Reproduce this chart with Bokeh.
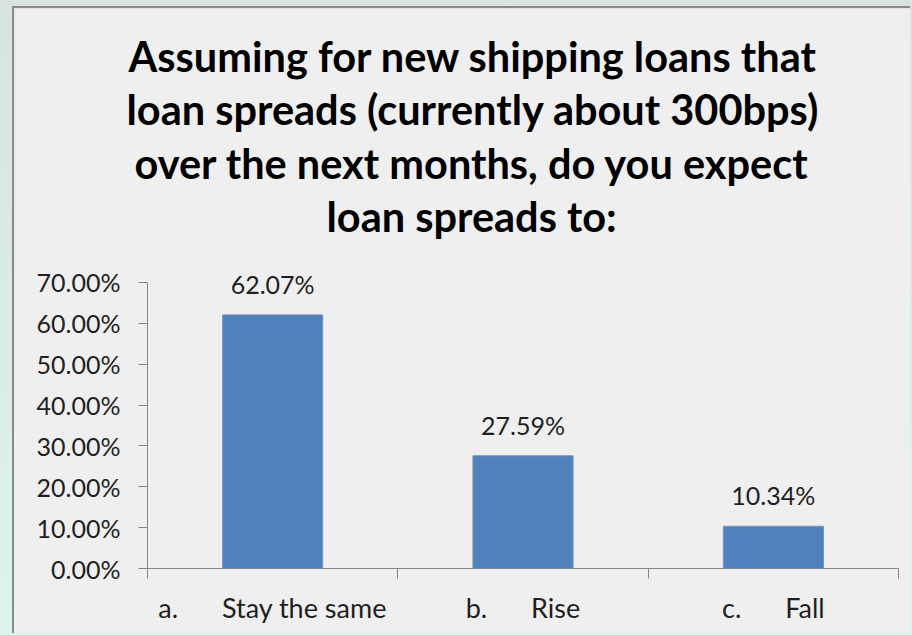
from bokeh.plotting import figure
from bokeh.models import (ColumnDataSource, Range1d, FixedTicker, NumeralTickFormatter,
                          LabelSet, Title, GlobalInlineStyleSheet)
from bokeh.core.properties import value
from bokeh.embed import file_html
from bokeh.resources import INLINE

# ---- data ----
categories = ["a.\u2003\u2003\u2009Stay the same", "b.\u2003\u2003\u2009Rise", "c.\u2003\u2003\u2009Fall"]
shares = [0.6207, 0.2759, 0.1034]
value_labels = ["62.07%", "27.59%", "10.34%"]
y_ticks = [0.0, 0.1, 0.2, 0.3, 0.4, 0.5, 0.6, 0.7]
title_lines = [
    "Assuming for new shipping loans that",
    "loan spreads (currently about 300bps)",
    "over the next months, do you expect",
    "loan spreads to:",
]

# ---- layout constants (styles / positions) ----
PAGE_W, PAGE_H = 912, 635
OFF_X, OFF_Y = 14, 8            # chart box inner corner on the page
W, H = PAGE_W - OFF_X, PAGE_H - OFF_Y
B_LEFT, B_RIGHT, B_BOTTOM, B_TOP = 133, 14, 67, 241
PX_PER_UNIT = 408.6
y_end = (H - B_TOP - B_BOTTOM) / PX_PER_UNIT
n = len(categories)
title_offsets = [-19, -21, -13, 179]    # left offsets of the centred title lines
title_standoffs = [-15, 17, -14, 17]    # vertical spacing tweaks of the title lines

FONT = "Lato"
TXT = "#1f1f1f"
AX = "#868686"
BG = "#efefef"

xs = [i + 0.5 for i in range(n)]
src = ColumnDataSource(dict(x=xs, top=shares, lab=value_labels))

page_css = GlobalInlineStyleSheet(css=(
    "html, body { margin: 0; padding: 0; height: 100%; overflow: hidden;"
    " background: linear-gradient(#d9e3de, #dcf5ea); }"))

p = figure(width=W, height=H, output_backend="svg", toolbar_location=None,
           x_range=Range1d(0, n), y_range=Range1d(0, y_end),
           min_border_left=B_LEFT, min_border_right=B_RIGHT,
           min_border_bottom=B_BOTTOM, min_border_top=B_TOP,
           styles={"margin-left": "12px", "margin-top": "6px",
                   "border-left": "2px solid #8a8a8a",
                   "border-top": "2px solid #8a8a8a"},
           stylesheets=[page_css])
p.border_fill_color = BG
p.background_fill_color = BG
p.outline_line_color = None
p.xgrid.visible = False
p.ygrid.visible = False

# title: four stacked lines (p.title is outermost, added ones stack toward the frame)
def style_title(t, off, so):
    t.align = "left"
    t.offset = off
    t.text_font = FONT
    t.text_font_style = "bold"
    t.text_font_size = "41.5px"
    t.text_color = "#000000"
    t.standoff = so

p.title.text = title_lines[0]
style_title(p.title, title_offsets[0], title_standoffs[0])
for line, off, so in reversed(list(zip(title_lines[1:], title_offsets[1:], title_standoffs[1:]))):
    t = Title(text=line)
    style_title(t, off, so)
    p.add_layout(t, "above")

p.vbar(x="x", top="top", width=0.4, source=src, fill_color="#4f81bd",
       line_color="#6f96c8", line_width=1)

p.add_layout(LabelSet(x="x", y="top", text="lab", source=src, y_offset=21,
                      text_align="center", text_baseline="alphabetic",
                      text_font=value(FONT), text_font_size="25px", text_color=TXT))

ya = p.yaxis[0]
ya.ticker = FixedTicker(ticks=y_ticks, minor_ticks=[])
ya.formatter = NumeralTickFormatter(format="0.00%")
ya.bounds = (0, y_ticks[-1])
ya.axis_line_color = AX
ya.major_tick_line_color = AX
ya.major_tick_out = 9
ya.major_tick_in = 0
ya.minor_tick_line_color = None
ya.major_label_standoff = 18
ya.major_label_text_font = FONT
ya.major_label_text_font_size = "25px"
ya.major_label_text_color = TXT

xa = p.xaxis[0]
xa.ticker = FixedTicker(ticks=xs, minor_ticks=list(range(n + 1)))
xa.major_label_overrides = {x: c for x, c in zip(xs, categories)}
xa.axis_line_color = AX
xa.major_tick_line_color = None
xa.major_tick_out = 0
xa.major_tick_in = 0
xa.minor_tick_line_color = AX
xa.minor_tick_out = 10
xa.minor_tick_in = 0
xa.major_label_standoff = 12
xa.major_label_text_font = FONT
xa.major_label_text_font_size = "27px"
xa.major_label_text_color = TXT

open("out.html", "w").write(file_html(p, INLINE))
